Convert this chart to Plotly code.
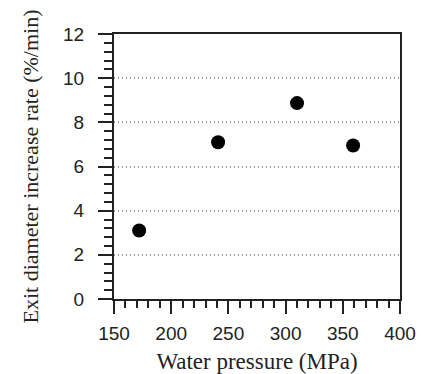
import plotly.graph_objects as go

pressure = [172, 241, 310, 359]
rate = [3.1, 7.1, 8.87, 6.95]
x_ticks = [150, 200, 250, 300, 350, 400]
y_ticks = [0, 2, 4, 6, 8, 10, 12]

fig = go.Figure()
fig.add_trace(go.Scatter(
    x=pressure, y=rate, mode="markers",
    marker=dict(color="black", size=14, line=dict(width=0)),
    showlegend=False,
))

tickfont = dict(family="Liberation Sans, Arial", size=19, color="#222")
titlefont = dict(family="Liberation Serif, Times New Roman", size=22, color="#222")

fig.update_xaxes(
    range=[150, 400], tickvals=x_ticks, ticktext=[str(v) for v in x_ticks],
    ticks="outside", ticklen=13, tickwidth=2, tickcolor="#222",
    minor=dict(dtick=10, ticks="outside", ticklen=7, tickwidth=2, tickcolor="#222", showgrid=False),
    showline=True, linecolor="#222", linewidth=2, mirror=True,
    showgrid=False, zeroline=False, automargin=False,
    tickfont=tickfont, ticklabelstandoff=3,
    title=dict(text="Water pressure (MPa)", font=dict(family="Liberation Serif, Times New Roman", size=23, color="#222"), standoff=13),
)
fig.update_yaxes(
    range=[0, 12], tickvals=y_ticks, ticktext=[str(v) for v in y_ticks],
    ticks="outside", ticklen=14, tickwidth=2, tickcolor="#222",
    minor=dict(dtick=0.4, ticks="outside", ticklen=8, tickwidth=2, tickcolor="#222", showgrid=False),
    showline=True, linecolor="#222", linewidth=2, mirror=True,
    showgrid=True, gridcolor="#999", gridwidth=1.5, griddash="1px,3px",
    zeroline=False, automargin=False,
    tickfont=tickfont, ticklabelstandoff=10,
    title=dict(text="Exit diameter increase rate (%/min)", font=titlefont, standoff=18),
)
fig.update_layout(
    width=421, height=374,
    margin=dict(l=114, r=21, t=34, b=75),
    plot_bgcolor="white", paper_bgcolor="white",
)
fig.write_html("out.html")
